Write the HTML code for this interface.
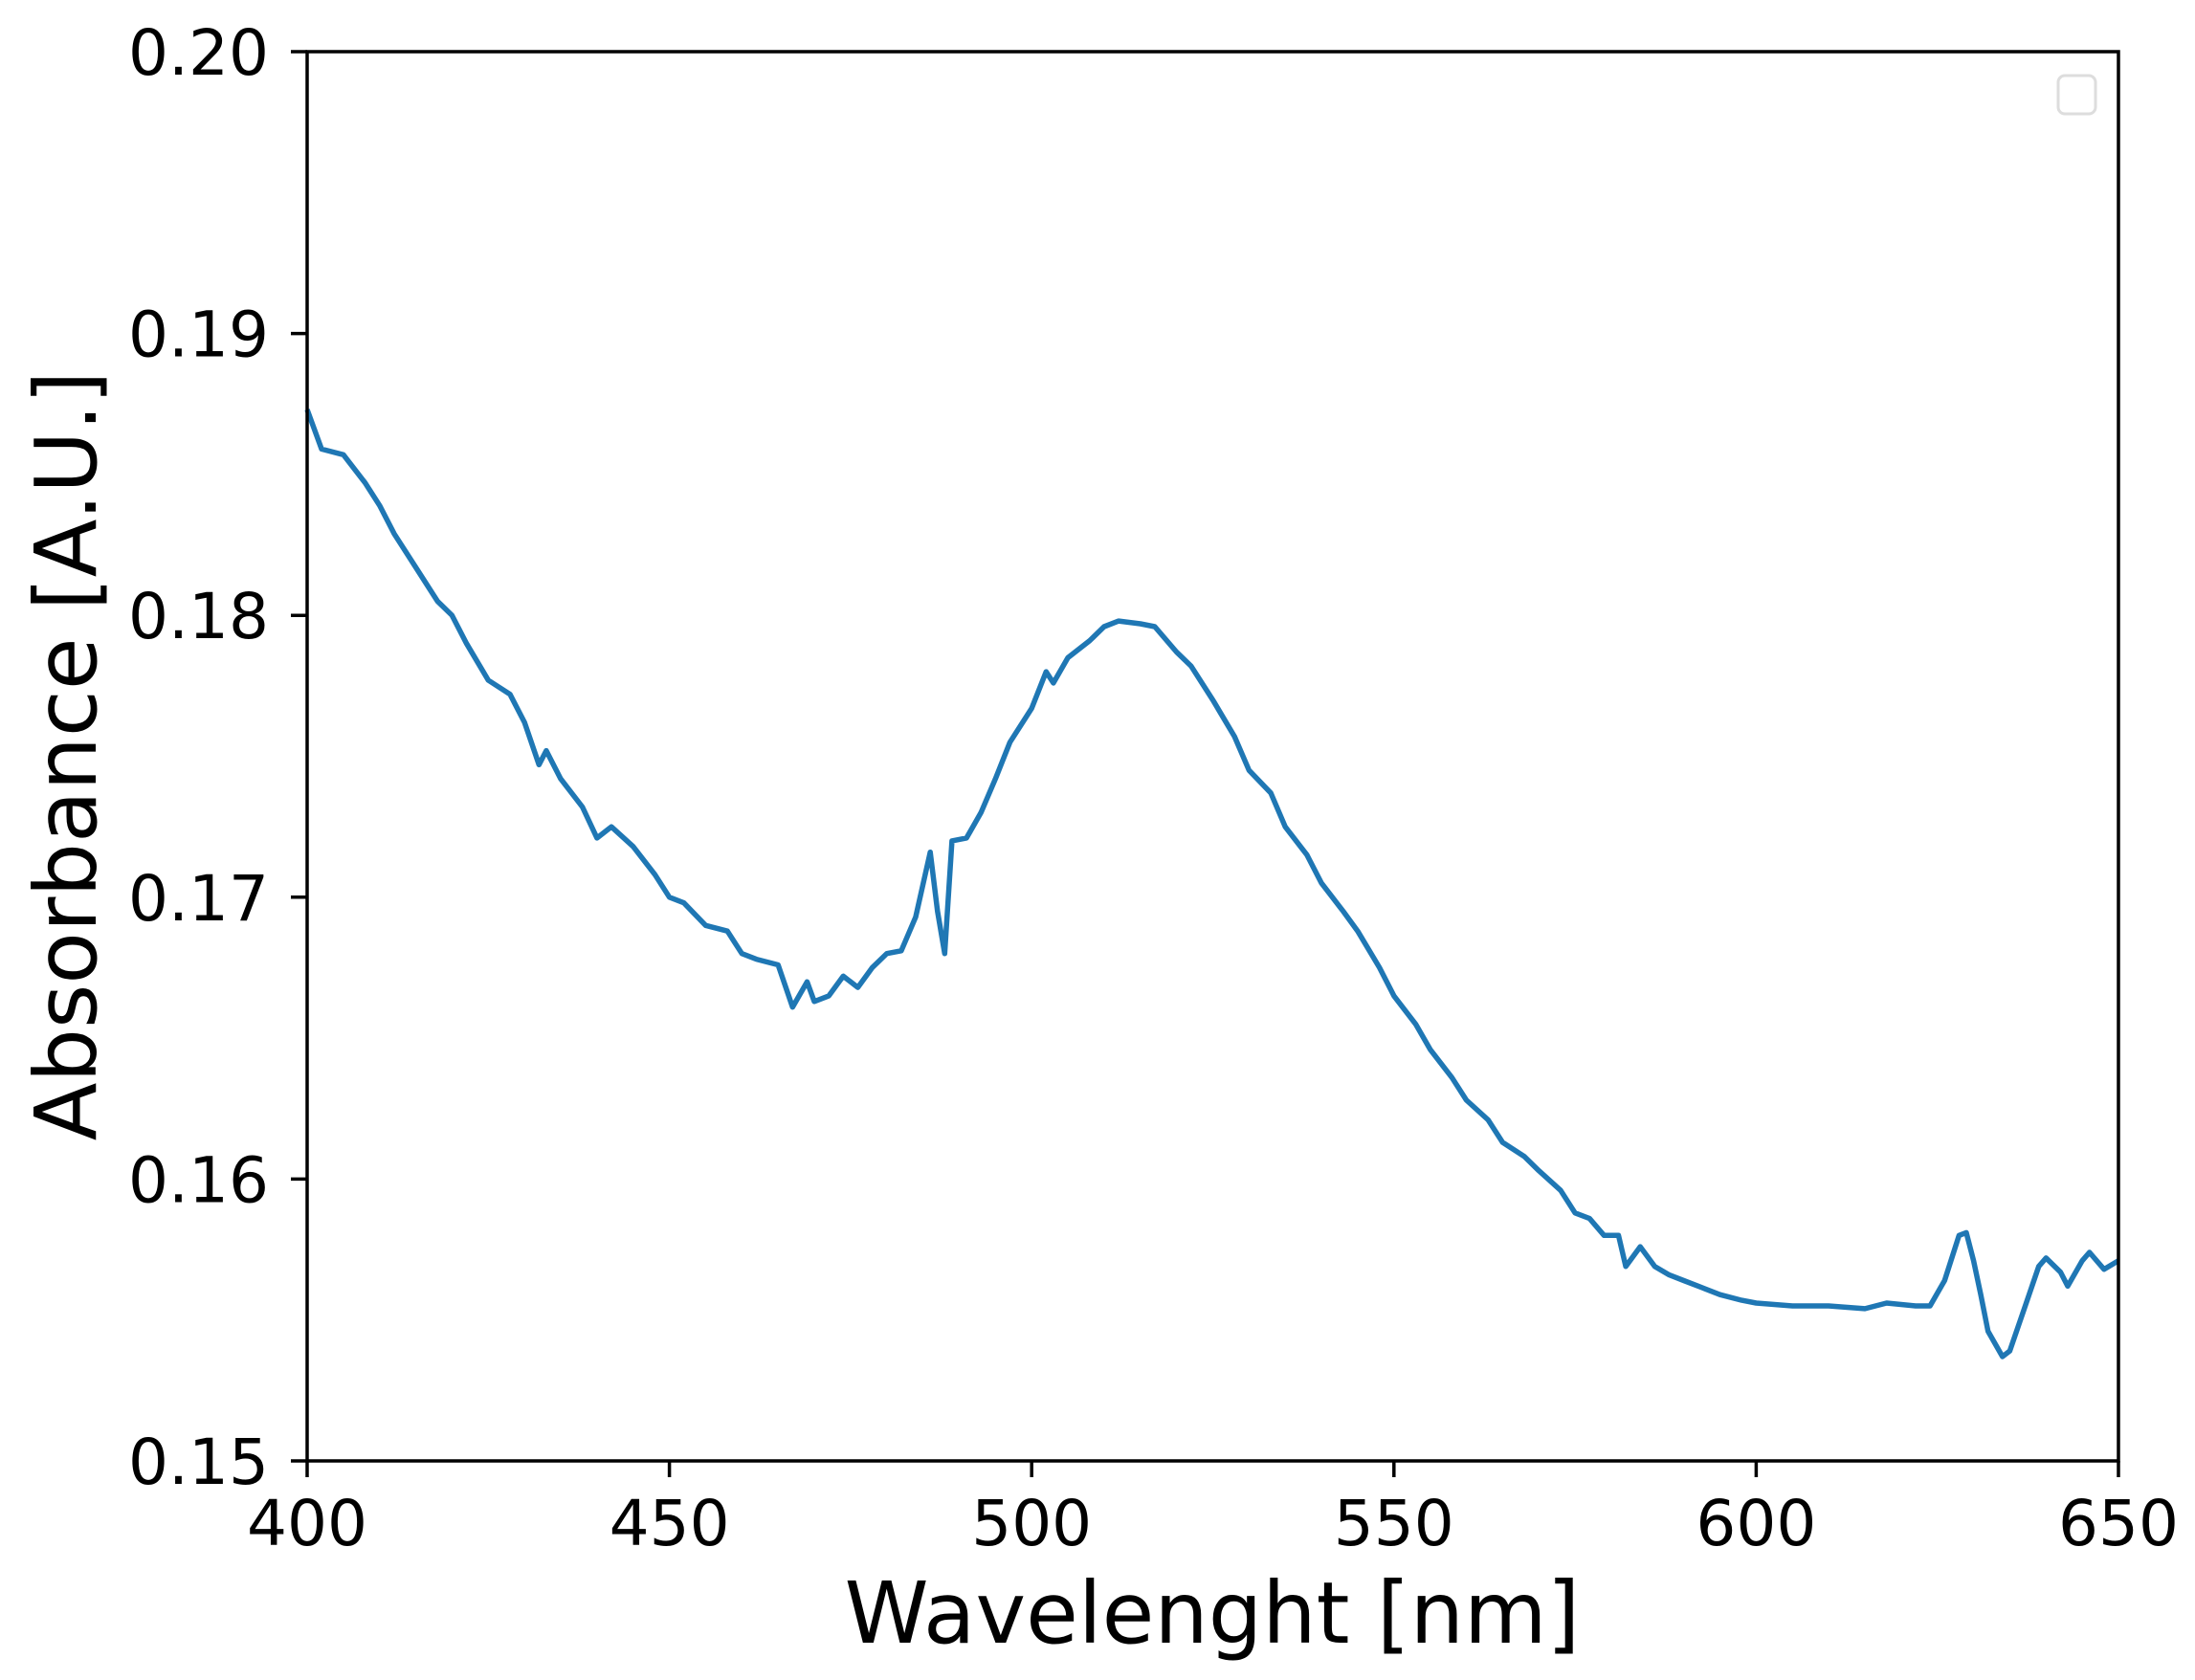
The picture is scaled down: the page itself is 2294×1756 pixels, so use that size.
<!DOCTYPE html>
<html><head><meta charset="utf-8"><style>
body{margin:0;background:#fff}
svg{display:block}
text{font-family:"DejaVu Sans","Liberation Sans",sans-serif;fill:#000}
</style></head><body>
<svg id="chart" width="2294" height="1756" viewBox="0 0 2294 1756" xmlns="http://www.w3.org/2000/svg">
<g id="ticks"></g>
<path id="series" fill="none" stroke="#1f77b4" stroke-width="5.5" stroke-linejoin="round"/>
<rect x="321" y="54" width="1893" height="1473" fill="none" stroke="#000" stroke-width="3.5"/>
<rect x="2151" y="79" width="39" height="40" rx="7" fill="#fff" stroke="#ddd" stroke-width="3"/>
<text x="1267" y="1717" font-size="89" text-anchor="middle">Wavelenght [nm]</text>
<text transform="translate(100,790) rotate(-90)" font-size="89" text-anchor="middle">Absorbance [A.U.]</text>
</svg>
<script>
const wavelengths=[400,402,405,408,410,412,415,418,420,422,425,428,430,432,433,435,438,440,442,445,448,450,452,455,458,460,462,465,467,469,470,472,474,476,478,480,482,484,486,487,488,489,491,493,495,497,500,502,503,505,508,510,512,515,517,520,522,525,528,530,533,535,538,540,543,545,548,550,553,555,558,560,563,565,568,570,573,575,577,579,581,582,584,586,588,590,593,595,598,600,605,610,615,618,622,624,626,628,629,630,631,632,634,635,637,639,640,642,643,645,646,648,650];
const absorbance=[0.1873,0.1859,0.1857,0.1847,0.1839,0.1829,0.1817,0.1805,0.1800,0.1790,0.1777,0.1772,0.1762,0.1747,0.1752,0.1742,0.1732,0.1721,0.1725,0.1718,0.1708,0.1700,0.1698,0.1690,0.1688,0.1680,0.1678,0.1676,0.1661,0.1670,0.1663,0.1665,0.1672,0.1668,0.1675,0.1680,0.1681,0.1693,0.1716,0.1695,0.1680,0.1720,0.1721,0.1730,0.1742,0.1755,0.1767,0.1780,0.1776,0.1785,0.1791,0.1796,0.1798,0.1797,0.1796,0.1787,0.1782,0.1770,0.1757,0.1745,0.1737,0.1725,0.1715,0.1705,0.1695,0.1688,0.1675,0.1665,0.1655,0.1646,0.1636,0.1628,0.1621,0.1613,0.1608,0.1603,0.1596,0.1588,0.1586,0.1580,0.1580,0.1569,0.1576,0.1569,0.1566,0.1564,0.1561,0.1559,0.1557,0.1556,0.1555,0.1555,0.1554,0.1556,0.1555,0.1555,0.1564,0.1580,0.1581,0.1571,0.1559,0.1546,0.1537,0.1539,0.1554,0.1569,0.1572,0.1567,0.1562,0.1571,0.1574,0.1568,0.1571];
const xTicks=[400,450,500,550,600,650];
const yTicks=[0.15,0.16,0.17,0.18,0.19,0.20];
const yTickLabels=["0.15","0.16","0.17","0.18","0.19","0.20"];
const X0=321,X1=2214,Y0=1527,Y1=54;
function xs(v){return X0+(v-400)/(650-400)*(X1-X0);}
function ys(v){return Y0-(v-0.15)/(0.20-0.15)*(Y0-Y1);}
const NS="http://www.w3.org/2000/svg";
const g=document.getElementById('ticks');
xTicks.forEach(t=>{
  const l=document.createElementNS(NS,'line');
  
  
  l.setAttribute('x1',xs(t));l.setAttribute('x2',xs(t));l.setAttribute('y1',Y0);l.setAttribute('y2',Y0+17);
  l.setAttribute('stroke','#000');l.setAttribute('stroke-width','3.5');g.appendChild(l);
  const tx=document.createElementNS(NS,'text');
  
  
  tx.setAttribute('x',xs(t));tx.setAttribute('y',1615);tx.setAttribute('font-size','66');tx.setAttribute('text-anchor','middle');
  tx.textContent=String(t);g.appendChild(tx);
});
yTicks.forEach((t,i)=>{
  const l=document.createElementNS(NS,'line');
  
  
  l.setAttribute('x1',X0-17);l.setAttribute('x2',X0);l.setAttribute('y1',ys(t));l.setAttribute('y2',ys(t));
  l.setAttribute('stroke','#000');l.setAttribute('stroke-width','3.5');g.appendChild(l);
  const tx=document.createElementNS(NS,'text');
  
  
  tx.setAttribute('x',X0-40);tx.setAttribute('y',ys(t)+24);tx.setAttribute('font-size','66');tx.setAttribute('text-anchor','end');
  tx.textContent=yTickLabels[i];g.appendChild(tx);
});
document.getElementById('series').setAttribute('d',wavelengths.map((w,i)=>(i?'L':'M')+xs(w).toFixed(1)+' '+ys(absorbance[i]).toFixed(1)).join(' '));
</script>
</body></html>
